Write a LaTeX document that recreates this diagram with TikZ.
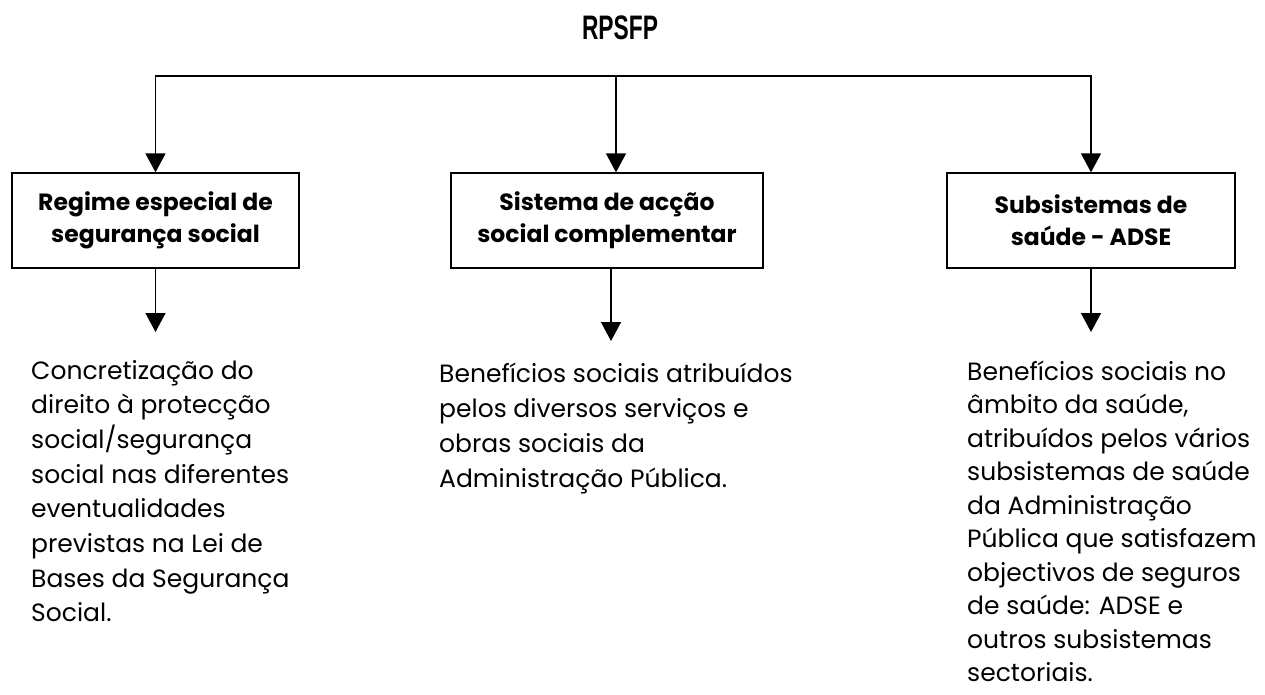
\documentclass[tikz,border=0pt]{standalone}
\usepackage{fontspec}
\setmainfont{Poppins}
\newfontfamily\titlefont{Liberation Sans}[FakeStretch=0.67]
\usetikzlibrary{arrows.meta}
\begin{document}
\begin{tikzpicture}[x=1pt,y=-1pt]
\tikzset{
  box/.style={draw, line width=1.3pt, inner sep=0pt, minimum height=95pt, align=center,
    font=\bfseries\fontsize{23.5}{32}\selectfont},
  body/.style={anchor=base west, inner sep=0pt, font=\fontsize{25}{35}\selectfont},
  conn/.style={line width=1.5pt},
  arr/.style={conn, -{Triangle[width=20pt,length=19pt]}},
}
\useasboundingbox (0,0) rectangle (1265,694);
\node[anchor=base, inner sep=0pt, font=\titlefont\bfseries\fontsize{34}{40}\selectfont] (title) at (620,39) {RPSFP};

\node[box, minimum width=287pt] (b1) at (155.5,220.5) {Regime especial de\\segurança social};
\node[box, minimum width=312pt] (b2) at (607,220.5) {Sistema de acção\\social complementar};
\node[box, minimum width=288pt] (b3) at (1091,220.5) {Subsistemas de\\saúde - ADSE};

\coordinate (c1) at (155.5,76);
\coordinate (c2) at (616,76);
\coordinate (c3) at (1091,76);
\draw[conn, line cap=rect] (c1) -- (c3);
\draw[arr] (c1) -- (b1.north);
\draw[arr] (c2) -- (c2 |- b2.north);
\draw[arr] (c3) -- (b3.north);

\coordinate (t1) at (155.5,332);
\coordinate (t2) at (611,341);
\coordinate (t3) at (1091,332);
\draw[arr] (b1.south) -- (t1);
\draw[arr] (t2 |- b2.south) -- (t2);
\draw[arr] (b3.south) -- (t3);

\node[body] (d1) at (31,379) {\baselineskip=34.7pt\vtop{\hbox{Concretização do}\hbox{direito à protecção}\hbox{social/segurança}\hbox{social nas diferentes}\hbox{eventualidades}\hbox{previstas na Lei de}\hbox{Bases da Segurança}\hbox{Social.}}};
\node[body] (d2) at (439,382) {\vtop{\hbox{Benefícios sociais atribuídos}\hbox{pelos diversos serviços e}\hbox{obras sociais da}\hbox{Administração Pública.}}};
\node[body] (d3) at (967,380) {\baselineskip=33.5pt\vtop{\hbox{Benefícios sociais no}\hbox{âmbito da saúde,}\hbox{atribuídos pelos vários}\hbox{subsistemas de saúde}\hbox{da Administração}\hbox{Pública que satisfazem}\hbox{objectivos de seguros}\hbox{de saúde: ADSE e}\hbox{outros subsistemas}\hbox{sectoriais.}}};
\end{tikzpicture}
\end{document}
